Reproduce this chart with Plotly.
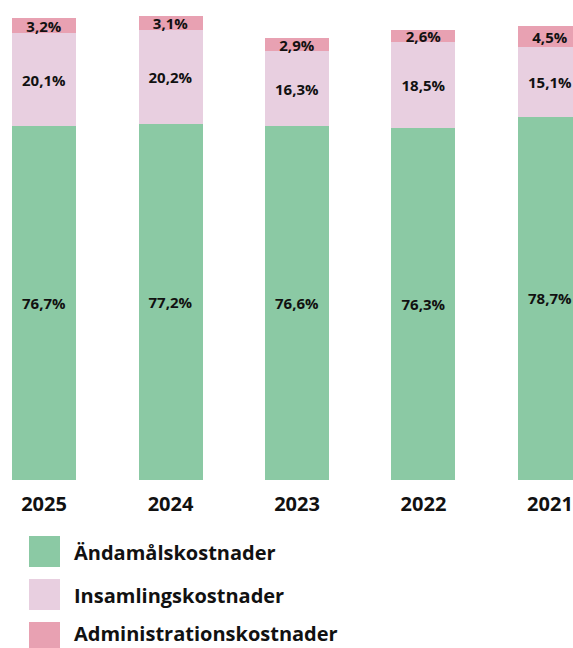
import plotly.graph_objects as go

years = ["2025", "2024", "2023", "2022", "2021"]
series_names = ["Ändamålskostnader", "Insamlingskostnader", "Administrationskostnader"]
andamal = [76.7, 77.2, 76.6, 76.3, 78.7]
insamling = [20.1, 20.2, 16.3, 18.5, 15.1]
admin = [3.2, 3.1, 2.9, 2.6, 4.5]
colors = ["#8bc9a4", "#e8cfe0", "#e8a1b2"]

FONT = "Open Sans, sans-serif"

def fmt(v):
    return f"{v:.1f}".replace(".", ",") + "%"

fig = go.Figure()
for name, vals, col in zip(series_names, [andamal, insamling, admin], colors):
    fig.add_trace(go.Bar(
        x=years, y=vals, name=name, marker=dict(color=col, line=dict(width=0)),
        width=0.506,
        text=[fmt(v) for v in vals], textposition="inside", insidetextanchor="middle",
        constraintext="none", textangle=0,
        textfont=dict(family=FONT, size=15, color="#111111", weight="bold"),
        showlegend=False, hoverinfo="skip",
    ))

# custom legend with large squares
plot_h = 480.0
def py(px):
    return (plot_h - px) / plot_h

leg_tops = [536, 579, 622]
for i, (name, col, top) in enumerate(zip(series_names, colors, leg_tops)):
    fig.add_shape(type="rect", xref="paper", yref="paper",
                  x0=29 / 573, x1=60 / 573, y0=py(top + 31), y1=py(top),
                  fillcolor=col, line=dict(width=0))
    if i < 2:
        fig.add_annotation(xref="paper", yref="paper", x=73 / 573, y=py(top + 16),
                           text=name, showarrow=False, xanchor="left", yanchor="middle",
                           borderpad=0,
                           font=dict(family=FONT, size=20, color="#111111", weight="bold"))
    else:
        fig.add_annotation(xref="paper", yref="paper", x=73 / 573, y=py(648),
                           text=name, showarrow=False, xanchor="left", yanchor="bottom",
                           borderpad=0,
                           font=dict(family=FONT, size=20, color="#111111", weight="bold"))

fig.update_layout(
    barmode="stack",
    width=573, height=648,
    margin=dict(l=0, r=0, t=0, b=168),
    paper_bgcolor="white", plot_bgcolor="white",
    xaxis=dict(type="category", range=[-0.348, 4.182], showgrid=False, zeroline=False,
               showline=False, ticks="", ticklabelstandoff=10,
               tickfont=dict(family=FONT, size=20, color="#111111", weight="bold")),
    yaxis=dict(range=[0, 104], visible=False, showgrid=False, zeroline=False),
)

fig.write_html("out.html", config={"displayModeBar": False},
               post_script="document.body.style.margin='0';document.body.style.overflow='hidden';")
